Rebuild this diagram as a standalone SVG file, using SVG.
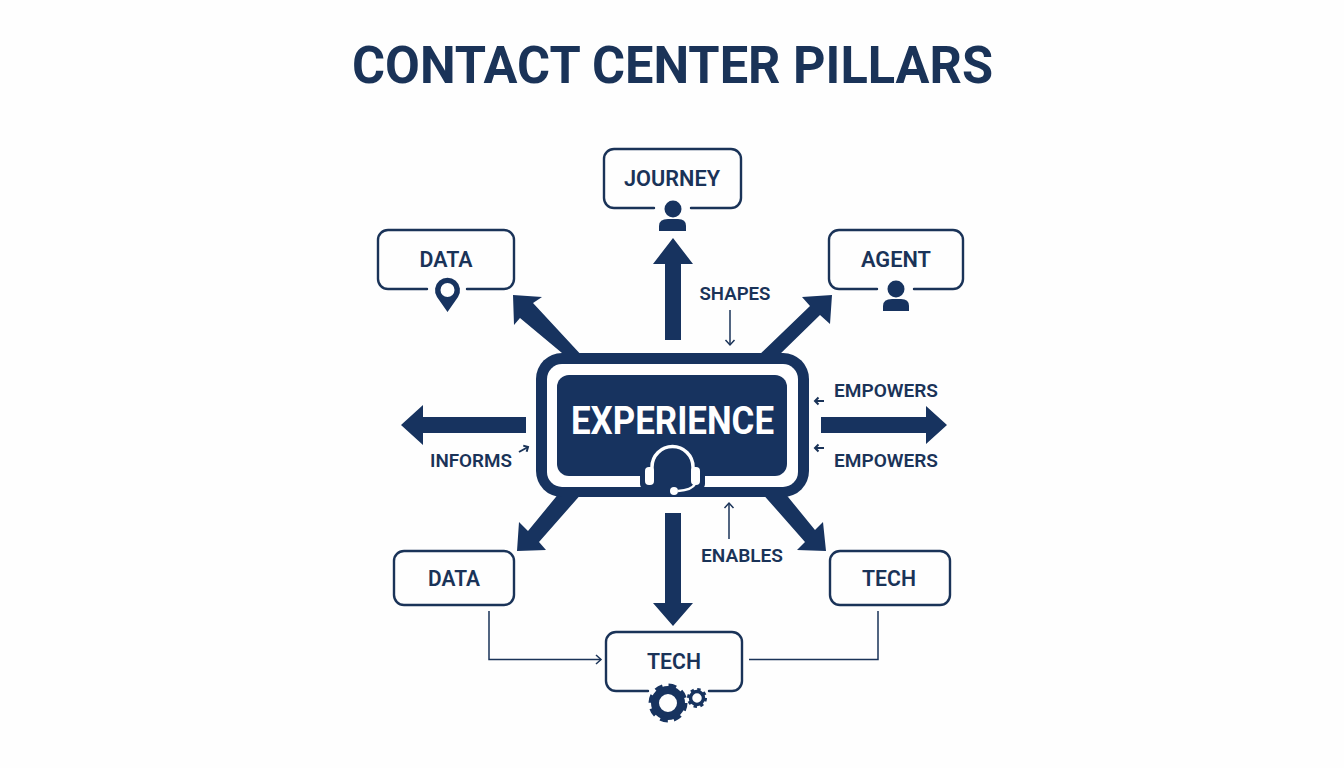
<svg xmlns="http://www.w3.org/2000/svg" width="1344" height="768" viewBox="0 0 1344 768">
<style>
text{font-family:Roboto,"Liberation Sans",sans-serif;fill:#1a3358;text-anchor:middle}
.t{font-size:52px;font-weight:700}
.n{font-size:22px;font-weight:600}
.l{font-size:19px;font-weight:600}
.b{fill:none;stroke:#1a3358;stroke-width:2.4;stroke-linecap:round}
.f{fill:#17335f}
.c{fill:none;stroke:#1a3358;stroke-width:1.5}
.k{fill:none;stroke:#1a3358;stroke-width:2}
.w{fill:none;stroke:#fff}
</style>
<defs>
<marker id="o" markerUnits="userSpaceOnUse" markerWidth="12" markerHeight="12" refX="9" refY="6" orient="auto"><path d="M4 1.500L9 6L4 10.500" fill="none" stroke="#1a3358" stroke-width="1.500"/></marker>
<marker id="m" markerUnits="userSpaceOnUse" markerWidth="10" markerHeight="10" refX="7" refY="5" orient="auto"><path d="M3.500 1.500L7 5L3.500 8.500" fill="none" stroke="#1a3358" stroke-width="2"/></marker>
</defs>
<rect width="1344" height="768" fill="#fefefe"/>
<text class="t" x="672.500" y="83" textLength="641" lengthAdjust="spacingAndGlyphs">CONTACT CENTER PILLARS</text>
<g id="connectors">
<polygon class="f" points="665,340 665,264 653,264 673,238 693,264 681,264 681,340"/>
<polygon class="f" points="821,417 926,417 926,406 947,425 926,444 926,433 821,433"/>
<polygon class="f" points="526,417 423,417 423,405 401,425 423,445 423,433 526,433"/>
<polygon class="f" points="665,513 665,603 653,603 673,626 693,603 681,603 681,513"/>
<polygon class="f" points="568,358 520,318 514,325 513,295 542,297 533,303 584,358"/>
<polygon class="f" points="756,358 810,306 802,297 832,295 830,324 820,315 776,358"/>
<polygon class="f" points="560,492 528,531 519,522 517,551 546,550 539,542 583,492"/>
<polygon class="f" points="784,492 815,530 823,522 826,551 797,550 805,542 761,492"/>
<path class="c" d="M489 611V659.500H601" marker-end="url(#o)"/>
<path class="c" d="M878 611V659.500H749"/>
<path class="c" d="M730 310V345" marker-end="url(#o)"/>
<path class="c" d="M729 539V503" marker-end="url(#o)"/>
<path class="k" d="M824 401H815" marker-end="url(#m)"/>
<path class="k" d="M824 448H815" marker-end="url(#m)"/>
<path class="k" d="M519 452L528 447" marker-end="url(#m)"/>
</g>
<g id="experience">
<rect class="f" x="536" y="353" width="273" height="144" rx="26"/>
<rect x="547" y="364" width="251" height="123" rx="15" fill="#fff"/>
<rect class="f" x="557" y="375" width="230" height="101" rx="12"/>
<rect class="f" x="640" y="470" width="65" height="20" rx="6"/>
<text x="672.500" y="434" textLength="203" lengthAdjust="spacingAndGlyphs" style="font-size:38px;font-weight:700;fill:#fff">EXPERIENCE</text>
<path class="w" stroke-width="3.500" d="M652 472V467A20.500 20.500 0 0 1 693 467V472"/>
<rect x="645" y="467" width="9" height="18" rx="4" fill="#fff"/>
<rect x="691" y="467" width="9" height="18" rx="4" fill="#fff"/>
<path class="w" stroke-width="2.500" d="M695 484Q692 490 678 491"/>
<circle cx="674" cy="491" r="4" fill="#fff"/>
</g>
<g id="journey">
<path class="b" d="M654 208H614A10 10 0 0 1 604 198V159A10 10 0 0 1 614 149H731A10 10 0 0 1 741 159V198A10 10 0 0 1 731 208H691"/>
<text class="n" x="672" y="186" textLength="96" lengthAdjust="spacingAndGlyphs">JOURNEY</text>
<circle class="f" cx="673" cy="209" r="8.500"/>
<path class="f" d="M659 231V226Q659 219 668 219H678Q686 219 686 226V231Z"/>
</g>
<g id="data-top">
<path class="b" d="M427 289H388A10 10 0 0 1 378 279V240A10 10 0 0 1 388 230H504A10 10 0 0 1 514 240V279A10 10 0 0 1 504 289H467"/>
<text class="n" x="446" y="267" textLength="53" lengthAdjust="spacingAndGlyphs">DATA</text>
<path class="f" fill-rule="evenodd" d="M447.500 312L437 297A12.500 12.500 0 1 1 458 297ZM447.500 283A7 7 0 1 0 447.500 297A7 7 0 1 0 447.500 283Z"/>
</g>
<g id="agent">
<path class="b" d="M877 289H839A10 10 0 0 1 829 279V240A10 10 0 0 1 839 230H953A10 10 0 0 1 963 240V279A10 10 0 0 1 953 289H914"/>
<text class="n" x="896" y="267" textLength="70" lengthAdjust="spacingAndGlyphs">AGENT</text>
<circle class="f" cx="896" cy="289" r="8.500"/>
<path class="f" d="M883 311V306Q883 299 892 299H901Q909 299 909 306V311Z"/>
</g>
<g id="data-bottom">
<rect class="b" x="394" y="551" width="120" height="54" rx="10"/>
<text class="n" x="454" y="586" textLength="52" lengthAdjust="spacingAndGlyphs">DATA</text>
</g>
<g id="tech-right">
<rect class="b" x="830" y="551" width="120" height="54" rx="10"/>
<text class="n" x="889" y="586" textLength="54" lengthAdjust="spacingAndGlyphs">TECH</text>
</g>
<g id="tech-bottom">
<path class="b" d="M648 691H616A10 10 0 0 1 606 681V642A10 10 0 0 1 616 632H732A10 10 0 0 1 742 642V681A10 10 0 0 1 732 691H709"/>
<text class="n" x="674" y="669" textLength="54" lengthAdjust="spacingAndGlyphs">TECH</text>
<circle cx="668" cy="703" r="13" fill="none" stroke="#17335f" stroke-width="8"/>
<circle cx="668" cy="703" r="17" fill="none" stroke="#17335f" stroke-width="5" stroke-dasharray="7.500 5.850"/>
<circle cx="697" cy="698" r="6.500" fill="none" stroke="#17335f" stroke-width="3.500"/>
<circle cx="697" cy="698" r="8.500" fill="none" stroke="#17335f" stroke-width="3" stroke-dasharray="3.300 3.370"/>
</g>
<g id="labels">
<text class="l" x="735" y="300" textLength="71" lengthAdjust="spacingAndGlyphs">SHAPES</text>
<text class="l" x="886" y="397" textLength="104" lengthAdjust="spacingAndGlyphs">EMPOWERS</text>
<text class="l" x="886" y="467" textLength="104" lengthAdjust="spacingAndGlyphs">EMPOWERS</text>
<text class="l" x="471" y="467" textLength="82" lengthAdjust="spacingAndGlyphs">INFORMS</text>
<text class="l" x="742" y="562" textLength="82" lengthAdjust="spacingAndGlyphs">ENABLES</text>
</g>
</svg>
